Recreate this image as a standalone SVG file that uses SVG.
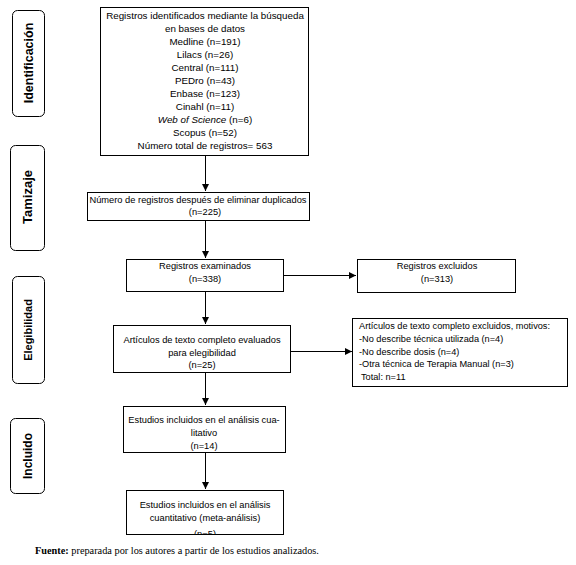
<svg xmlns="http://www.w3.org/2000/svg" width="576" height="565" viewBox="0 0 576 565">
<style>
  .box{fill:#fff;stroke:#000;stroke-width:1}
  .side{fill:#fff;stroke:#000;stroke-width:1}
  .t{font-family:"Liberation Sans",Arial,sans-serif;font-size:9.3px;fill:#000;text-anchor:middle}
  .tl{font-family:"Liberation Sans",Arial,sans-serif;font-size:9.2px;fill:#000}
  .s{font-family:"Liberation Sans",Arial,sans-serif;font-size:12.5px;font-weight:bold;fill:#000;text-anchor:middle}
  .c{fill:none;stroke:#000;stroke-width:1}
  .f{font-family:"Liberation Serif","Times New Roman",serif;font-size:10.3px;fill:#000}
</style>
<defs>
  <marker id="ah" viewBox="0 0 8 8" refX="8" refY="4" markerWidth="7" markerHeight="7" markerUnits="userSpaceOnUse" orient="auto">
    <path d="M0,0 L8,4 L0,8 z" fill="#000"/>
  </marker>
  <clipPath id="clip6"><rect x="126" y="490" width="157" height="44"/></clipPath>
</defs>

<g id="side-identificacion">
  <rect class="side" x="12.5" y="10.5" width="32" height="106" rx="5"/>
  <text class="s" transform="translate(32.5,63) rotate(-90)">Identificación</text>
</g>
<g id="side-tamizaje">
  <rect class="side" x="10.5" y="145.5" width="34" height="105" rx="5"/>
  <text class="s" style="font-size:13px" transform="translate(32,197) rotate(-90)">Tamizaje</text>
</g>
<g id="side-elegibilidad">
  <rect class="side" x="12.5" y="276.5" width="32" height="107" rx="5"/>
  <text class="s" style="font-size:11px" transform="translate(32,330) rotate(-90)">Elegibilidad</text>
</g>
<g id="side-incluido">
  <rect class="side" x="10.5" y="418.5" width="34" height="75" rx="5"/>
  <text class="s" style="font-size:12px" transform="translate(32,456) rotate(-90)">Incluido</text>
</g>

<g id="connectors">
  <line class="c" x1="205.5" y1="156" x2="205.5" y2="191" marker-end="url(#ah)"/>
  <line class="c" x1="205.5" y1="220" x2="205.5" y2="258" marker-end="url(#ah)"/>
  <line class="c" x1="283" y1="275.5" x2="356" y2="275.5" marker-end="url(#ah)"/>
  <line class="c" x1="205.5" y1="291" x2="205.5" y2="324" marker-end="url(#ah)"/>
  <line class="c" x1="290" y1="351.5" x2="352" y2="351.5" marker-end="url(#ah)"/>
  <line class="c" x1="205.5" y1="372" x2="205.5" y2="405" marker-end="url(#ah)"/>
  <line class="c" x1="205.5" y1="452" x2="205.5" y2="489" marker-end="url(#ah)"/>
</g>

<g id="n-identificados">
  <rect class="box" x="100.5" y="7.5" width="208" height="148"/>
  <g style="font-size:9.8px">
  <text class="t" style="font-size:9.8px" x="205" y="18.5">Registros identificados mediante la búsqueda</text>
  <text class="t" style="font-size:9.8px" x="205" y="31.5">en bases de datos</text>
  <text class="t" style="font-size:9.8px" x="205" y="44.5">Medline (n=191)</text>
  <text class="t" style="font-size:9.8px" x="205" y="57.5">Lilacs (n=26)</text>
  <text class="t" style="font-size:9.8px" x="205" y="70.5">Central (n=111)</text>
  <text class="t" style="font-size:9.8px" x="205" y="83.5">PEDro (n=43)</text>
  <text class="t" style="font-size:9.8px" x="205" y="96.5">Enbase (n=123)</text>
  <text class="t" style="font-size:9.8px" x="205" y="109.5">Cinahl (n=11)</text>
  <text class="t" style="font-size:9.8px" x="205" y="122.5"><tspan font-style="italic">Web of Science</tspan> (n=6)</text>
  <text class="t" style="font-size:9.8px" x="205" y="135.5">Scopus (n=52)</text>
  <text class="t" style="font-size:9.8px" x="205" y="148.5">Número total de registros= 563</text>
  </g>
</g>

<g id="n-duplicados">
  <rect class="box" x="87.5" y="192.5" width="222" height="28"/>
  <text class="t" x="198" y="202.5">Número de registros después de eliminar duplicados</text>
  <text class="t" x="205" y="214.5">(n=225)</text>
</g>

<g id="n-examinados">
  <rect class="box" x="126.5" y="259.5" width="157" height="32"/>
  <text class="t" x="205" y="269">Registros examinados</text>
  <text class="t" x="205" y="282">(n=338)</text>
</g>

<g id="n-excluidos">
  <rect class="box" x="357.5" y="259.5" width="158" height="33"/>
  <text class="t" x="437" y="269">Registros excluidos</text>
  <text class="t" x="437" y="282">(n=313)</text>
</g>

<g id="n-evaluados">
  <rect class="box" x="113.5" y="325.5" width="177" height="47"/>
  <text class="t" x="202" y="343">Artículos de texto completo evaluados</text>
  <text class="t" x="202" y="355.5">para elegibilidad</text>
  <text class="t" x="202" y="368">(n=25)</text>
</g>

<g id="n-motivos">
  <rect class="box" x="352.5" y="318.5" width="215" height="68"/>
  <text class="tl" x="359" y="329">Artículos de texto completo excluidos, motivos:</text>
  <text class="tl" x="359" y="342">-No describe técnica utilizada (n=4)</text>
  <text class="tl" x="359" y="354.5">-No describe dosis (n=4)</text>
  <text class="tl" x="359" y="367">-Otra técnica de Terapia Manual (n=3)</text>
  <text class="tl" x="361" y="379.5">Total: n=11</text>
</g>

<g id="n-cualitativo">
  <rect class="box" x="123.5" y="406.5" width="162" height="46"/>
  <text class="t" x="204" y="423">Estudios incluidos en el análisis cua-</text>
  <text class="t" x="204" y="436">litativo</text>
  <text class="t" x="204" y="449">(n=14)</text>
</g>

<g id="n-cuantitativo">
  <rect class="box" x="126.5" y="490.5" width="157" height="44"/>
  <g clip-path="url(#clip6)">
    <text class="t" x="205" y="508">Estudios incluidos en el análisis</text>
    <text class="t" x="205" y="521">cuantitativo (meta-análisis)</text>
    <text class="t" x="205" y="537">(n=5)</text>
  </g>
  <line x1="126.5" y1="534.5" x2="283.5" y2="534.5" stroke="#000" stroke-width="1"/>
</g>

<text class="f" x="35" y="554"><tspan font-weight="bold">Fuente:</tspan> preparada por los autores a partir de los estudios analizados.</text>
</svg>
